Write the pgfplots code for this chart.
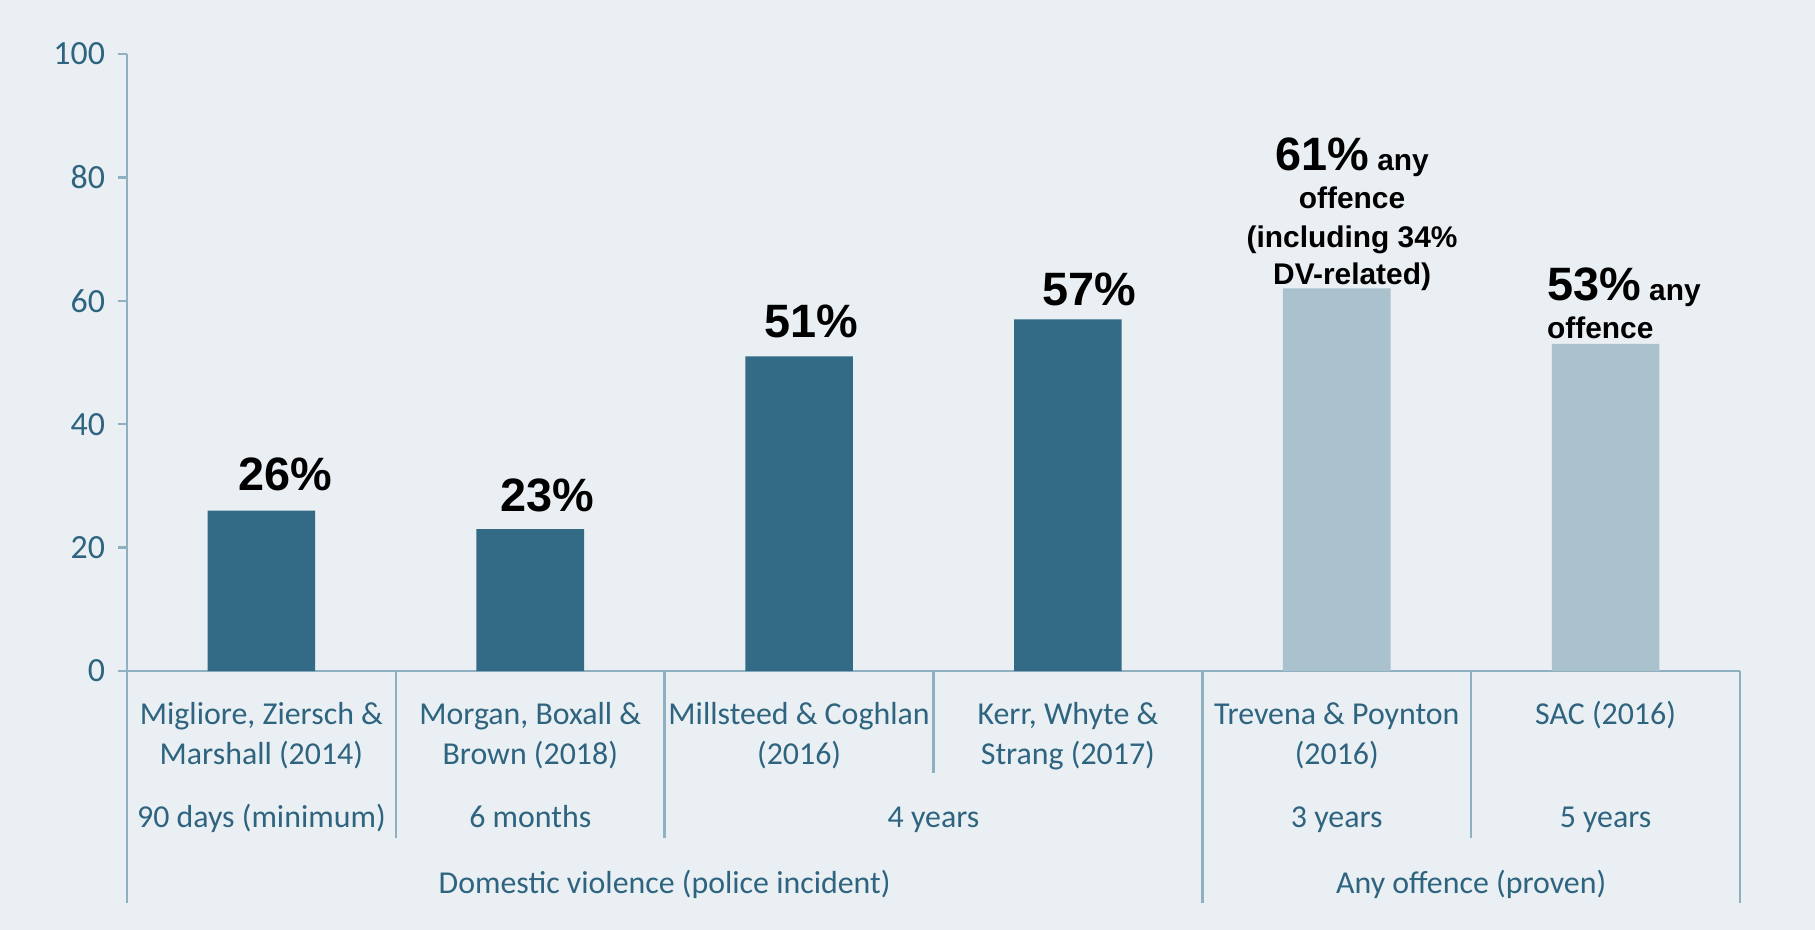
\documentclass[border=0pt]{standalone}
\usepackage{fontspec}
\setmainfont{Carlito}
\newfontfamily\arial{Liberation Sans}
\usepackage{pgfplots}
\pgfplotsset{compat=1.18}
\definecolor{bg}{RGB}{233,239,242}
\definecolor{darkbar}{RGB}{51,106,133}
\definecolor{lightbar}{RGB}{170,194,206}
\definecolor{axisc}{RGB}{143,176,192}
\definecolor{txt}{RGB}{46,100,128}
\newcommand{\vbig}{\fontsize{23.5}{28}\selectfont\arial\bfseries}
\newcommand{\vsmall}{\fontsize{15}{18}\selectfont\arial\bfseries}
\newcommand{\cat}{\fontsize{16}{19}\selectfont\color{txt}}
\begin{document}
\begin{tikzpicture}
\path[fill=bg, use as bounding box] (-63.5bp,-129.5bp) rectangle (844bp,335.5bp);
\begin{axis}[
  at={(0,0)}, anchor=south west,
  scale only axis, width=806.5bp, height=308.5bp,
  xmin=0, xmax=6, ymin=0, ymax=100,
  clip=false,
  axis x line*=bottom, axis y line*=left,
  axis line style={axisc, line width=1.2bp, -},
  xtick=\empty,
  ytick={0,20,40,60,80,100},
  tick align=outside,
  major tick length=4.5bp,
  every tick/.style={axisc, line width=1.2bp},
  tick label style={font=\cat},
  yticklabel style={xshift=-3bp, font=\fontsize{17}{20}\selectfont\color{txt}},
  /pgf/number format/assume math mode=true,
  ybar, bar width=0.4, bar shift=0pt,
]
\addplot[fill=darkbar, draw=none] coordinates {(0.5,26) (1.5,23) (2.5,51) (3.5,57)};
\addplot[fill=lightbar, draw=none] coordinates {(4.5,62) (5.5,53)};

% value labels
\node[anchor=base] at (axis cs:0.589,29.2) {\vbig 26\%};
\node[anchor=base] at (axis cs:1.5625,25.9) {\vbig 23\%};
\node[anchor=base] at (axis cs:2.546,54.0) {\vbig 51\%};
\node[anchor=base] at (axis cs:3.579,59.2) {\vbig 57\%};
\node[anchor=base] at (axis cs:4.557,81.1) {\vbig 61\%\vsmall\ any};
\node[anchor=base] at (axis cs:4.557,75.0) {\vsmall offence};
\node[anchor=base] at (axis cs:4.557,68.7) {\vsmall (including 34\%};
\node[anchor=base] at (axis cs:4.557,62.7) {\vsmall DV-related)};
\node[anchor=base west, inner sep=0pt] at (axis cs:5.281,60.1) {\vbig 53\%\vsmall\ any};
\node[anchor=base west, inner sep=0pt] at (axis cs:5.281,53.9) {\vsmall offence};

% separators
\draw[axisc, line width=1.2bp] (axis cs:0,0) -- (axis cs:0,-37.6);
\draw[axisc, line width=1.2bp] (axis cs:1,0) -- (axis cs:1,-27.1);
\draw[axisc, line width=1.2bp] (axis cs:2,0) -- (axis cs:2,-27.1);
\draw[axisc, line width=1.2bp] (axis cs:3,0) -- (axis cs:3,-16.5);
\draw[axisc, line width=1.2bp] (axis cs:4,0) -- (axis cs:4,-37.6);
\draw[axisc, line width=1.2bp] (axis cs:5,0) -- (axis cs:5,-27.1);
\draw[axisc, line width=1.2bp] (axis cs:6,0) -- (axis cs:6,-37.6);

% category labels
\node[anchor=base] at (axis cs:0.5,-8.72) {\cat Migliore, Ziersch \&};
\node[anchor=base] at (axis cs:0.5,-15.2) {\cat Marshall (2014)};
\node[anchor=base] at (axis cs:1.5,-8.72) {\cat Morgan, Boxall \&};
\node[anchor=base] at (axis cs:1.5,-15.2) {\cat Brown (2018)};
\node[anchor=base] at (axis cs:2.5,-8.72) {\cat Millsteed \& Coghlan};
\node[anchor=base] at (axis cs:2.5,-15.2) {\cat (2016)};
\node[anchor=base] at (axis cs:3.5,-8.72) {\cat Kerr, Whyte \&};
\node[anchor=base] at (axis cs:3.5,-15.2) {\cat Strang (2017)};
\node[anchor=base] at (axis cs:4.5,-8.72) {\cat Trevena \& Poynton};
\node[anchor=base] at (axis cs:4.5,-15.2) {\cat (2016)};
\node[anchor=base] at (axis cs:5.5,-8.72) {\cat SAC (2016)};

\node[anchor=base] at (axis cs:0.5,-25.3) {\cat 90 days (minimum)};
\node[anchor=base] at (axis cs:1.5,-25.3) {\cat 6 months};
\node[anchor=base] at (axis cs:3.0,-25.3) {\cat 4 years};
\node[anchor=base] at (axis cs:4.5,-25.3) {\cat 3 years};
\node[anchor=base] at (axis cs:5.5,-25.3) {\cat 5 years};

\node[anchor=base] at (axis cs:2.0,-36.1) {\cat Domestic violence (police incident)};
\node[anchor=base] at (axis cs:5.0,-36.1) {\cat Any offence (proven)};
\end{axis}
\end{tikzpicture}
\end{document}
